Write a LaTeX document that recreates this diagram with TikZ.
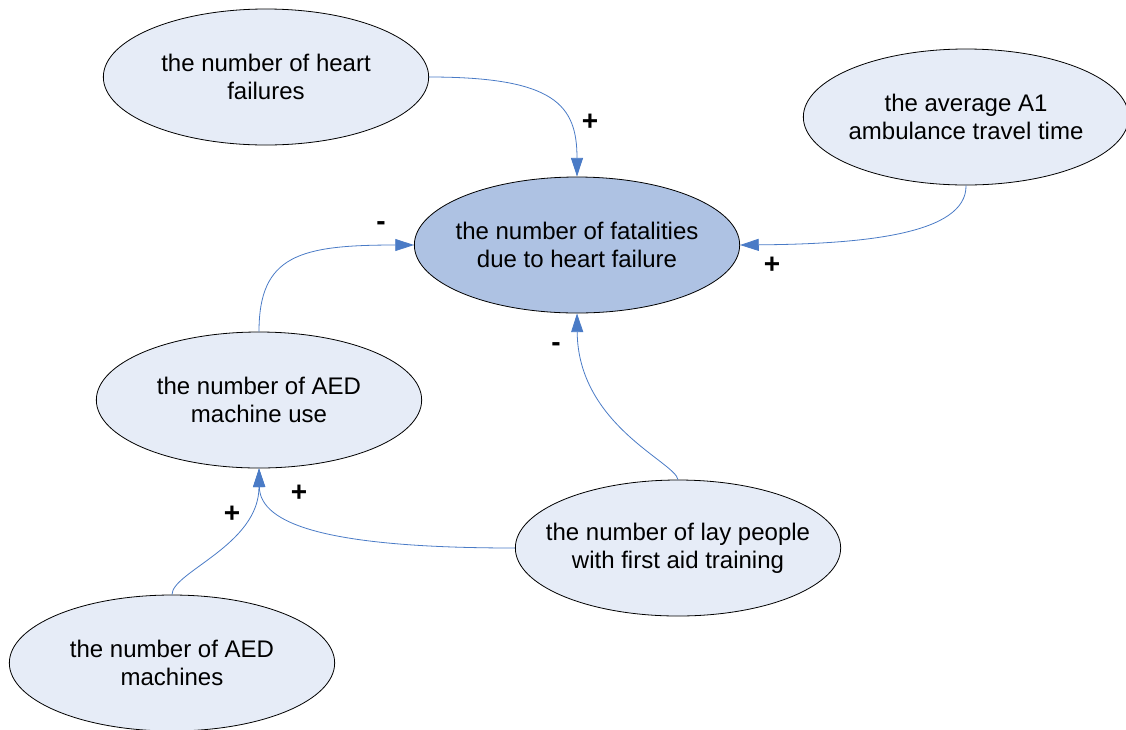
\documentclass[tikz,border=0pt]{standalone}
\usepackage{fontspec}
\setmainfont{Liberation Sans}
\usepackage{xcolor}
\usepackage{tikz}
\usetikzlibrary{positioning, shapes.geometric, arrows.meta}

\definecolor{bubblefill}{HTML}{E6ECF7}
\definecolor{mainfill}{HTML}{AEC2E3}
\definecolor{linkblue}{HTML}{4A7BC6}

\begin{document}
\begin{tikzpicture}[
        x=0.75pt, y=-0.75pt,
        font=\fontsize{18}{21}\selectfont,
        every node/.style={align=center},
        bubble/.style={ellipse, draw, line width=0.6pt, fill=bubblefill,
                       minimum width=244pt, minimum height=102pt,
                       inner xsep=-25pt, inner ysep=0pt},
        mainbubble/.style={bubble, fill=mainfill},
        link/.style={draw=linkblue, line width=0.6pt,
                     -{Triangle[length=14pt, width=9pt, fill=linkblue]}},
        sign/.style={font=\fontsize{21}{24}\selectfont\bfseries}
    ]
    \useasboundingbox (0,0) rectangle (1126,729);

    % Nodes
    \node[bubble] (heart) at (266,77) {the number of heart\\ failures};
    \node[bubble] (ambulance) at (966,117) {the average A1\\ ambulance travel time};
    \node[mainbubble] (fatal) at (577,245) {the number of fatalities\\ due to heart failure};
    \node[bubble] (aeduse) at (259,400) {the number of AED\\ machine use};
    \node[bubble] (laypeople) at (678,548) {the number of lay people\\ with first aid training};
    \node[bubble] (aedmach) at (172,663) {the number of AED\\ machines};

    % Arrows
    \draw[link] (heart.east) .. controls (555,77) and (577,105) .. (fatal.north);
    \draw[link] (ambulance.south) .. controls (967,235) and (860,244) .. (fatal.east);
    \draw[link] (aeduse.north) .. controls (259,255) and (300,245) .. (fatal.west);
    \draw[link] (laypeople.north) .. controls (675,462) and (578,425) .. (fatal.south);
    \draw[link] (laypeople.west) .. controls (330,548) and (260,525) .. (aeduse.south);
    \draw[link] (aedmach.north) .. controls (172,572) and (259,545) .. (aeduse.south);

    % Signs
    \node[sign] (s1) at (590,122) {+};
    \node[sign] (s2) at (772,265) {+};
    \node[sign] (s3) at (381,226) {-};
    \node[sign] (s4) at (556,347) {-};
    \node[sign] (s5) at (299,493) {+};
    \node[sign] (s6) at (232,514) {+};

\end{tikzpicture}
\end{document}
